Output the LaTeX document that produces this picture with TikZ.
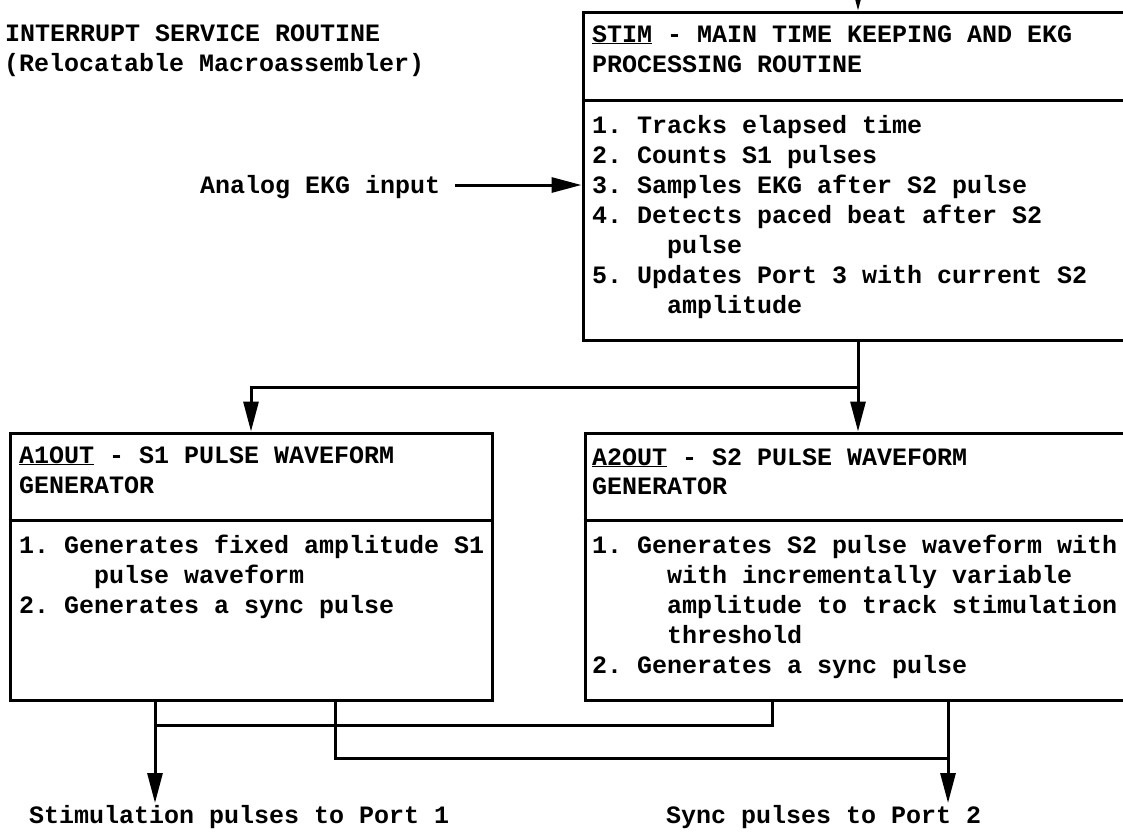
\documentclass[tikz,border=0pt]{standalone}
\usepackage{fontspec}
\newfontfamily\tw{Liberation Mono}
\usetikzlibrary{arrows.meta}
\newcommand{\ul}[1]{\underline{\smash{#1}}\vphantom{#1}}
\begin{document}
\begin{tikzpicture}[x=1pt,y=-1pt,
  box/.style={draw, line width=3pt, rectangle, inner sep=0pt},
  txt/.style={anchor=base west, inner sep=0pt, font=\tw\bfseries\fontsize{25}{30}\selectfont\frenchspacing},
  conn/.style={line width=3pt},
  arr/.style={conn, -{Triangle[length=30pt,width=15pt]}},
]
\useasboundingbox (0,0) rectangle (1123,831);
\clip (0,0) rectangle (1123,831);

% title
\node[txt] (title1) at (5,41) {INTERRUPT SERVICE ROUTINE};
\node[txt] (title2) at (4,71) {(Relocatable Macroassembler)};

% boxes
\node[box, minimum width=550pt, minimum height=328pt] (stim) at (858,176) {};
\node[box, minimum width=482pt, minimum height=267pt] (a1) at (251,566.5) {};
\node[box, minimum width=550pt, minimum height=267pt] (a2) at (860,566.5) {};

\coordinate (sepS) at (0,100);
\coordinate (sepA) at (0,520);
\draw[conn] (stim.west |- sepS) -- (stim.east |- sepS);
\draw[conn] (a1.west |- sepA) -- (a1.east |- sepA);
\draw[conn] (a2.west |- sepA) -- (a2.east |- sepA);

% STIM text
\node[txt] (sh1) at (592,42) {\ul{STIM} - MAIN TIME KEEPING AND EKG};
\node[txt] (sh2) at (592,72) {PROCESSING ROUTINE};
\node[txt] (sb1) at (592,133) {1. Tracks elapsed time};
\node[txt] (sb2) at (592,163) {2. Counts S1 pulses};
\node[txt] (sb3) at (592,193) {3. Samples EKG after S2 pulse};
\node[txt] (sb4) at (592,223) {4. Detects paced beat after S2};
\node[txt] (sb5) at (667,253) {pulse};
\node[txt] (sb6) at (592,283) {5. Updates Port 3 with current S2};
\node[txt] (sb7) at (667,313) {amplitude};

% A1OUT text
\node[txt] (ah1) at (19,463) {\ul{A1OUT} - S1 PULSE WAVEFORM};
\node[txt] (ah2) at (19,493) {GENERATOR};
\node[txt] (ab1) at (19,553) {1. Generates fixed amplitude S1};
\node[txt] (ab2) at (94,583) {pulse waveform};
\node[txt] (ab3) at (19,613) {2. Generates a sync pulse};

% A2OUT text
\node[txt] (bh1) at (592,465) {\ul{A2OUT} - S2 PULSE WAVEFORM};
\node[txt] (bh2) at (592,494) {GENERATOR};
\node[txt] (bb1) at (592,553) {1. Generates S2 pulse waveform with};
\node[txt] (bb2) at (667,583) {with incrementally variable};
\node[txt] (bb3) at (667,613) {amplitude to track stimulation};
\node[txt] (bb4) at (667,643) {threshold};
\node[txt] (bb5) at (592,673) {2. Generates a sync pulse};

% EKG input
\node[txt] (ekg) at (200,193) {Analog EKG input};
\coordinate (ekgs) at (455,185);
\draw[arr] (ekgs) -- (ekgs -| stim.west);

% incoming at top
\coordinate (topin) at (858,-40);
\draw[arr] (topin) -- (topin |- stim.north);

% stim to generators
\coordinate (split) at (858,387);
\draw[conn] (stim.south) -- (split);
\draw[arr] (split) -| (a1.north);
\draw[arr] (split) -- (split |- a2.north);

% outputs
\node[txt] (port1) at (29,823) {Stimulation pulses to Port 1};
\node[txt] (port2) at (666,823) {Sync pulses to Port 2};
\coordinate (o1) at (155,700);
\coordinate (o2) at (772,700);
\coordinate (o3) at (335,700);
\coordinate (o4) at (948,700);
\coordinate (tip) at (0,803);
\coordinate (j1) at (0,725);
\coordinate (j2) at (0,758);
\draw[arr] (o1) -- (o1 |- tip);
\draw[conn] (o2) |- (o1 |- j1);
\draw[conn] (o3) |- (o4 |- j2);
\draw[arr] (o4) -- (o4 |- tip);
\end{tikzpicture}
\end{document}
